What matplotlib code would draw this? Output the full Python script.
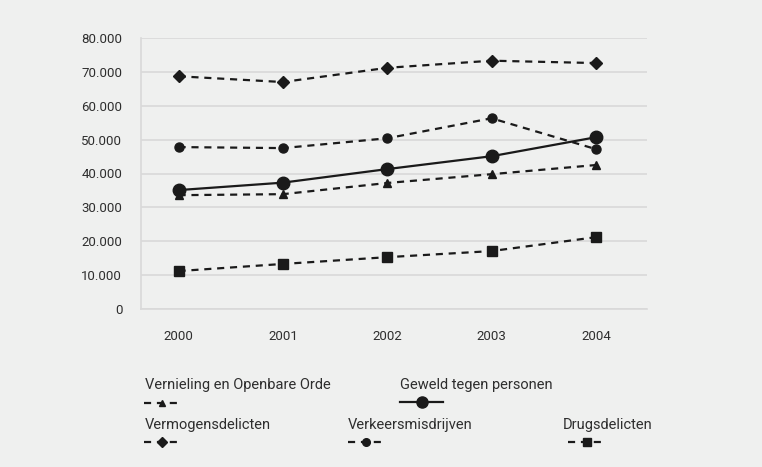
import matplotlib
matplotlib.use("Agg")
import matplotlib.pyplot as plt
from matplotlib.lines import Line2D

plt.rcParams['font.family'] = ['Roboto', 'DejaVu Sans']

years = ["2000", "2001", "2002", "2003", "2004"]
vernieling = [33600, 33900, 37200, 39800, 42500]
geweld = [35100, 37300, 41300, 45100, 50700]
vermogens = [68700, 67000, 71200, 73300, 72600]
verkeer = [47800, 47500, 50400, 56300, 47200]
drugs = [11200, 13300, 15300, 17100, 21200]
yticks = [0, 10000, 20000, 30000, 40000, 50000, 60000, 70000, 80000]
ytick_labels = ["0", "10.000", "20.000", "30.000", "40.000", "50.000", "60.000", "70.000", "80.000"]

bg = "#eff0ef"
ink = "#1a1a1a"
txt = "#2e2e2e"
grid = "#d9d9d9"
dash = (0, (3.2, 2.6))

fig = plt.figure(figsize=(7.62, 4.67), dpi=100, facecolor=bg)
ax = fig.add_axes([141/762, 1-309/467, (647-141)/762, (309-38)/467], facecolor=bg)

x = list(range(len(years)))
series = [
    (vernieling, '^', 6, dash),
    (geweld, 'o', 9, '-'),
    (vermogens, 'D', 6.5, dash),
    (verkeer, 'o', 6.5, dash),
    (drugs, 's', 6.5, dash),
]
for vals, m, ms, ls in series:
    ax.plot(x, vals, color=ink, linestyle=ls, linewidth=1.6, marker=m,
            markersize=ms, markerfacecolor=ink, markeredgecolor=ink, zorder=3)

ax.set_xlim(-0.36, 4.49)
ax.set_ylim(0, 80000)
ax.set_yticks(yticks)
ax.set_yticklabels(ytick_labels)
ax.set_xticks(x)
ax.set_xticklabels(years)
ax.grid(axis='y', color=grid, linewidth=1.2)
ax.set_axisbelow(True)
for s in ['top', 'right']:
    ax.spines[s].set_visible(False)
ax.spines['left'].set_color(grid)
ax.spines['bottom'].set_color(grid)
ax.spines['left'].set_linewidth(1.2)
ax.spines['bottom'].set_linewidth(1.2)
ax.tick_params(axis='both', length=0, labelsize=9.5, labelcolor=txt)
ax.tick_params(axis='y', pad=13.5)
ax.tick_params(axis='x', pad=15)

# legend
lax = fig.add_axes([0, 0, 1, 1], facecolor='none')
lax.set_xlim(0, 762)
lax.set_ylim(467, 0)
lax.axis('off')
legend_items = [
    ("Vernieling en Openbare Orde", 145, 385, 144, 180, 403, '^', 5, dash),
    ("Geweld tegen personen", 400, 385, 400, 443, 402, 'o', 8, '-'),
    ("Vermogensdelicten", 145, 425, 144, 180, 442, 'D', 5.5, dash),
    ("Verkeersmisdrijven", 348, 425, 348, 384, 442, 'o', 5.5, dash),
    ("Drugsdelicten", 563, 425, 568, 605, 442, 's', 5.5, dash),
]
for label, tx, ty, x0, x1, ly, m, ms, ls in legend_items:
    lax.text(tx, ty, label, fontsize=10.5, color=txt, va='center', ha='left')
    lax.add_line(Line2D([x0, x1], [ly, ly], color=ink, linestyle=ls, linewidth=1.6))
    lax.add_line(Line2D([(x0+x1)/2], [ly], marker=m, markersize=ms, color=ink, linestyle='none'))

fig.savefig("out.png", dpi=100, facecolor=bg)
